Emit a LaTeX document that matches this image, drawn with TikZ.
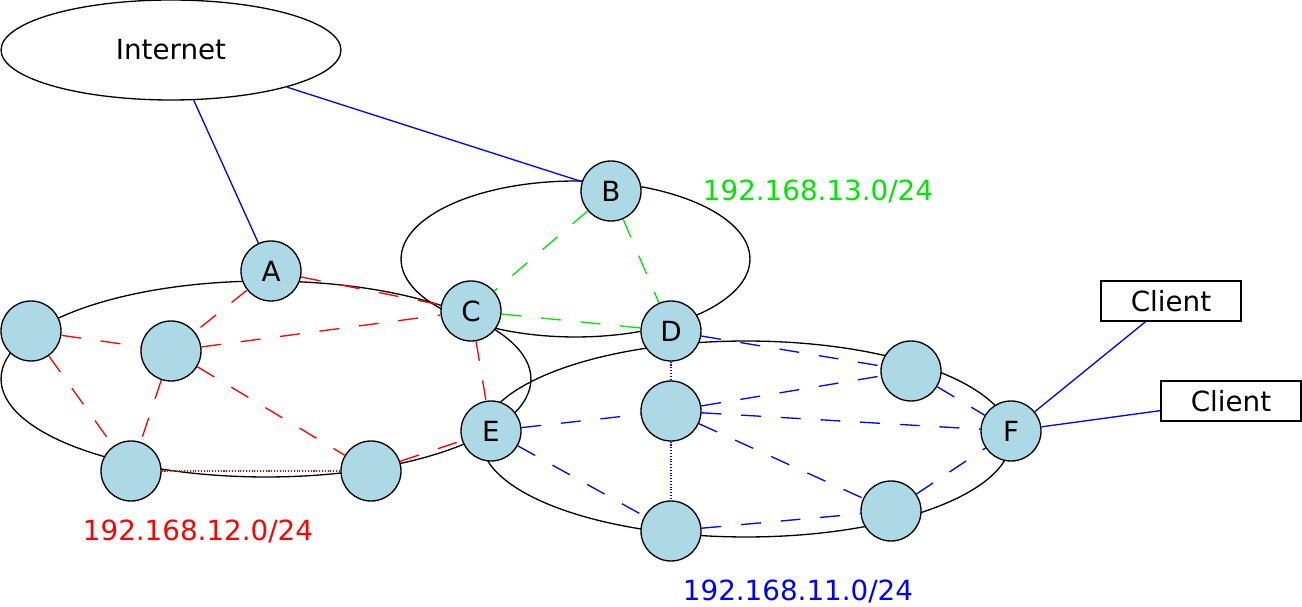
\documentclass[tikz,border=0pt]{standalone}
\usepackage{fontspec}
\setmainfont{DejaVu Sans}
\usetikzlibrary{shapes.geometric,positioning}
\definecolor{routerfill}{RGB}{173,216,230}
\definecolor{netred}{RGB}{255,0,0}
\definecolor{netgreen}{RGB}{0,230,0}
\definecolor{netblue}{RGB}{0,0,255}

\begin{document}
\begin{tikzpicture}[x=0.02cm, y=-0.02cm, line width=0.75pt, font=\fontsize{15.8}{19}\selectfont]
        \tikzset{
            router/.style={draw, circle, fill=routerfill, minimum size=1.2cm, inner sep=0pt},
            client/.style={draw, rectangle, minimum width=2.8cm, minimum height=0.8cm, inner sep=0pt},
            cloud/.style={draw, ellipse, minimum width=6.8cm, minimum height=2cm, inner sep=0pt},
            wan/.style={netblue},
            dashlink/.style={dash pattern=on 11.3pt off 11.3pt},
            dotlink/.style={densely dotted, line width=0.6pt}
        }
        \useasboundingbox (0,0) rectangle (1302,607);

        % Subnets
        \draw (266,379) ellipse [x radius=5.3cm, y radius=1.96cm];
        \draw (575.5,259) ellipse [x radius=3.49cm, y radius=1.56cm];
        \draw (746,439) ellipse [x radius=5.3cm, y radius=1.96cm];

        % Nodes
        \node [cloud] (inet) at (171,50) {Internet};
        \node [router] (A) at (271,271) {A};
        \node [router] (B) at (611,191) {B};
        \node [router] (C) at (471,311) {C};
        \node [router] (D) at (671,331) {D};
        \node [router] (E) at (491,431) {E};
        \node [router] (F) at (1011,431) {F};

        \node [router] (r1) at (31,331) {};
        \node [router] (r2) at (171,351) {};
        \node [router] (r3) at (131,471) {};
        \node [router] (r4) at (371,471) {};

        \node [router] (b1) at (671,411) {};
        \node [router] (b2) at (911,371) {};
        \node [router] (b3) at (671,531) {};
        \node [router] (b4) at (891,511) {};

        \node [client] (cl1) at (1171,301) {Client};
        \node [client] (cl2) at (1231,401) {Client};

        % Labels
        \node [text=netgreen] (lbl13) at (818,191) {192.168.13.0/24};
        \node [text=netred] (lbl12) at (198,531) {192.168.12.0/24};
        \node [text=netblue] (lbl11) at (798,591) {192.168.11.0/24};

        % Uplinks
        \draw [wan] (inet) -- (A);
        \draw [wan] (inet) -- (B);
        \draw [wan] (F) -- (cl1);
        \draw [wan] (F) -- (cl2);

        % 192.168.12.0/24
        \draw [netred, dashlink] (A) -- (C);
        \draw [netred, dashlink] (A) -- (r2);
        \draw [netred, dashlink] (r1) -- (r2);
        \draw [netred, dashlink] (r1) -- (r3);
        \draw [netred, dashlink] (r2) -- (r3);
        \draw [netred, dashlink] (r2) -- (C);
        \draw [netred, dashlink] (r2) -- (r4);
        \draw [netred, dashlink] (C) -- (E);
        \draw [netred, dashlink] (r4) -- (E);
        \draw [netred, dotlink] (r3) -- (r4);

        % 192.168.13.0/24
        \draw [netgreen, dashlink] (B) -- (C);
        \draw [netgreen, dashlink] (B) -- (D);
        \draw [netgreen, dashlink] (C) -- (D);

        % 192.168.11.0/24
        \draw [netblue, dashlink] (D) -- (b2);
        \draw [netblue, dashlink] (b1) -- (b2);
        \draw [netblue, dashlink] (b1) -- (F);
        \draw [netblue, dashlink] (b2) -- (F);
        \draw [netblue, dashlink] (E) -- (b1);
        \draw [netblue, dashlink] (E) -- (b3);
        \draw [netblue, dashlink] (b1) -- (b4);
        \draw [netblue, dashlink] (b3) -- (b4);
        \draw [netblue, dashlink] (b4) -- (F);
        \draw [netblue, dotlink] (D) -- (b1);
        \draw [netblue, dotlink] (b1) -- (b3);
\end{tikzpicture}
\end{document}
